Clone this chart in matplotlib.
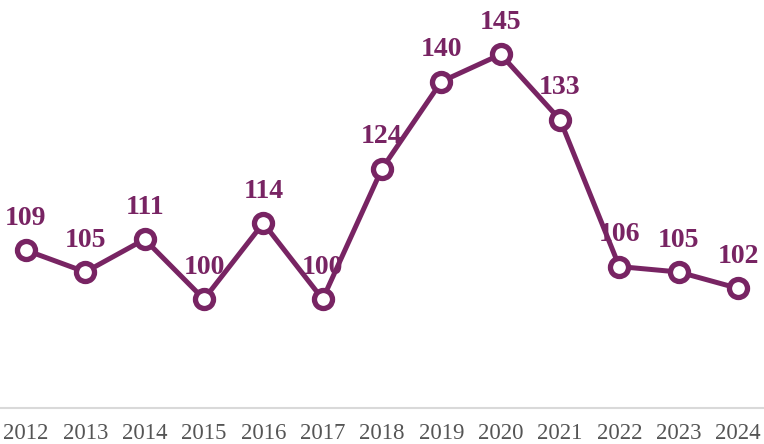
import matplotlib.pyplot as plt

years = [2012, 2013, 2014, 2015, 2016, 2017, 2018, 2019, 2020, 2021, 2022, 2023, 2024]
counts = [109, 105, 111, 100, 114, 100, 124, 140, 145, 133, 106, 105, 102]

purple = "#782463"

fig = plt.figure(figsize=(7.64, 4.44), dpi=100)
ax = fig.add_axes([0, 36 / 444, 1, 408 / 444])

# labels sit under the line
for x, y in zip(years, counts):
    ax.annotate(str(y), (x, y), xytext=(0, 23), textcoords="offset points",
                ha="center", va="center", fontsize=20, fontweight="bold",
                family="Liberation Serif", color=purple, zorder=1)

ax.plot(years, counts, color=purple, lw=3.6, marker="o", ms=13,
        mfc="white", mec=purple, mew=3.8, zorder=3, solid_joinstyle="miter")

ax.set_xlim(2011.562, 2024.438)
ax.set_ylim(80, 155)
ax.set_xticks(years)
ax.set_xticklabels([str(y) for y in years], family="Liberation Serif",
                   fontsize=16.5, color="#555555")
ax.tick_params(axis="x", length=0, pad=11)
ax.set_yticks([])
for s in ["top", "left", "right"]:
    ax.spines[s].set_visible(False)
ax.spines["bottom"].set_color("#d9d9d9")
ax.spines["bottom"].set_linewidth(1.5)

fig.savefig("out.png", dpi=100)
